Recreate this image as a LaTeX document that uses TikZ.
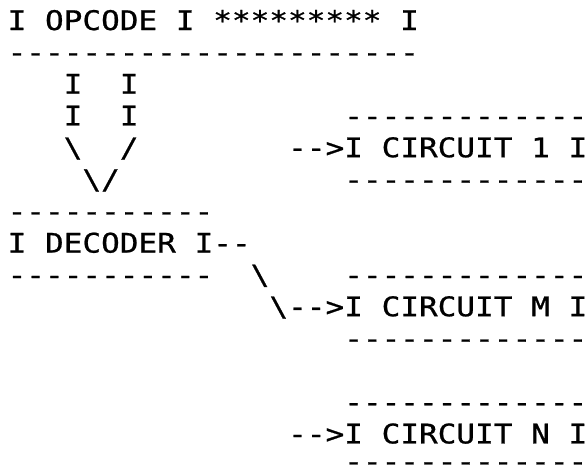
\documentclass[tikz,border=0pt]{standalone}
\usepackage{fontspec}
\newfontfamily\asciifont[FakeStretch=1.15, FakeBold=0.8, WordSpace={1,0,0}]{DejaVu Sans Mono}
\usepackage{tikz}

\begin{document}
\begin{tikzpicture}[
    x = 18.7pt, y = -31.8pt,
    txt/.style = {font=\asciifont\fontsize{27}{27}\selectfont,
                  anchor=base west, inner sep=0pt, outer sep=0pt},
  ]
  \useasboundingbox (0pt,0pt) rectangle (588pt,-471pt);
  \begin{scope}[shift={(7.65pt,-30pt)}]
  % opcode field
  \node[txt] (opcode)   at (0,0)  {I OPCODE I ********* I};
  \node[txt] (opcodeln) at (0,1)  {----------------------};
  \node[txt] (stemla)   at (3,2)  {I};
  \node[txt] (stemra)   at (6,2)  {I};
  \node[txt] (stemlb)   at (3,3)  {I};
  \node[txt] (stemrb)   at (6,3)  {I};
  \node[txt] (slantl)   at (3,4)  {\textbackslash};
  \node[txt] (slantr)   at (6,4)  {/};
  \node[txt] (tip)      at (4,5)  {\textbackslash/};
  % decoder
  \node[txt] (dectop)   at (0,6)  {-----------};
  \node[txt] (decoder)  at (0,7)  {I DECODER I--};
  \node[txt] (decbot)   at (0,8)  {-----------};
  \node[txt] (benda)    at (13,8) {\textbackslash};
  % circuits
  \node[txt] (c1top)    at (18,3) {-------------};
  \node[txt] (toc1)     at (15,4) {-->};
  \node[txt] (circ1)    at (18,4) {I CIRCUIT 1 I};
  \node[txt] (c1bot)    at (18,5) {-------------};
  \node[txt] (cmtop)    at (18,8) {-------------};
  \node[txt] (tocm)     at (14,9) {\textbackslash-->};
  \node[txt] (circm)    at (18,9) {I CIRCUIT M I};
  \node[txt] (cmbot)    at (18,10) {-------------};
  \node[txt] (cntop)    at (18,12) {-------------};
  \node[txt] (tocn)     at (15,13) {-->};
  \node[txt] (circn)    at (18,13) {I CIRCUIT N I};
  \node[txt] (cnbot)    at (18,13.86) {-------------};
  \end{scope}
\end{tikzpicture}
\end{document}
